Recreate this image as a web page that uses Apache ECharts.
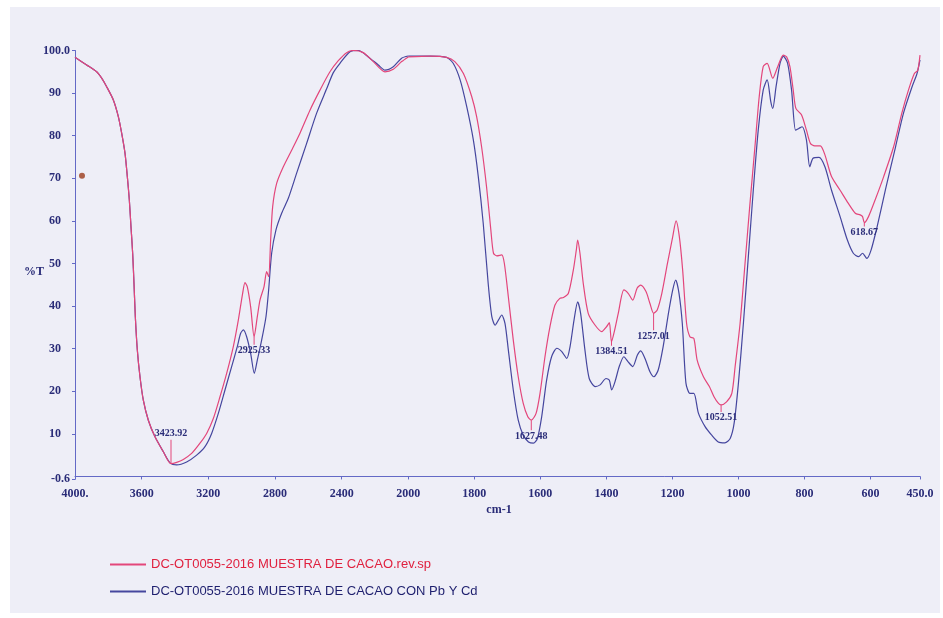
<!DOCTYPE html>
<html>
<head>
<meta charset="utf-8">
<script src="https://cdn.jsdelivr.net/npm/echarts@6/dist/echarts.min.js"></script>
<style>
  html, body { margin: 0; padding: 0; background: #ffffff; }
  #chart { width: 943px; height: 618px; }
</style>
</head>
<body>
<div id="chart"></div>
<script>
// IR spectra, wavenumber (cm-1) vs transmittance (%T)
const RED_NAME = 'DC-OT0055-2016 MUESTRA DE CACAO.rev.sp';
const BLUE_NAME = 'DC-OT0055-2016 MUESTRA DE CACAO CON Pb Y Cd';

// [wavenumber, %T]
const redSpectrum = [
  [4000, 98.4], [3930, 96.6], [3870, 95.0], [3840, 93.5], [3810, 91.5], [3770, 88.4],
  [3740, 84.5], [3720, 80.6], [3700, 75.9], [3686, 70.4], [3674, 64.9], [3664, 58.6],
  [3654, 52.4], [3646, 45.3], [3638, 37.5], [3626, 29.7], [3610, 23.4], [3590, 17.9],
  [3560, 13.2], [3520, 9.3], [3470, 5.8], [3390, 3.3], [3350, 4.0], [3300, 5.4],
  [3250, 7.8], [3210, 10.1], [3170, 13.6], [3130, 18.7], [3090, 24.2], [3050, 30.5],
  [3020, 36.7], [2994, 43.0], [2980, 45.5], [2966, 44.5], [2946, 39.8], [2906, 37.5],
  [2890, 41.4], [2866, 44.5], [2850, 48.1], [2838, 46.9], [2826, 55.5], [2814, 63.3],
  [2790, 68.8], [2750, 72.7], [2700, 76.6], [2650, 80.6], [2590, 86.0], [2530, 90.7],
  [2470, 95.0], [2420, 97.6], [2370, 99.5], [2330, 100.0], [2270, 99.5], [2210, 97.4],
  [2140, 95.0], [2090, 95.6], [2040, 97.4], [2000, 98.5], [1934, 98.7], [1884, 98.4],
  [1859, 97.4], [1833, 94.6], [1808, 89.2], [1793, 84.5], [1778, 77.4], [1763, 68.0],
  [1750, 57.9], [1742, 52.4], [1732, 51.8], [1717, 52.0], [1709, 50.0], [1697, 42.2],
  [1682, 32.0], [1667, 23.4], [1652, 17.2], [1638, 14.0], [1613, 14.8], [1601, 19.5],
  [1586, 28.1], [1571, 35.1], [1556, 40.2], [1541, 41.8], [1530, 42.0], [1515, 43.0],
  [1500, 48.5], [1491, 53.2], [1487, 55.5], [1480, 52.4], [1470, 45.3], [1455, 38.3],
  [1434, 35.5], [1414, 34.0], [1399, 35.2], [1391, 36.1], [1376, 34.0], [1364, 38.3],
  [1347, 43.8], [1334, 43.0], [1320, 41.4], [1307, 44.2], [1296, 44.9], [1280, 43.4],
  [1268, 40.6], [1246, 39.1], [1232, 43.0], [1215, 50.0], [1199, 56.3], [1189, 60.0],
  [1179, 56.3], [1169, 48.5], [1157, 35.9], [1147, 32.8], [1135, 32.4], [1125, 27.3],
  [1106, 23.4], [1088, 21.1], [1074, 18.7], [1061, 17.2], [1036, 17.5], [1020, 19.5],
  [1010, 25.8], [995, 35.9], [980, 50.0], [965, 64.1], [950, 77.4], [937, 89.2],
  [925, 96.2], [913, 97.0], [896, 93.5], [881, 96.2], [864, 98.9], [854, 98.5],
  [844, 96.2], [834, 90.7], [826, 86.4], [809, 84.9], [794, 81.3], [782, 78.2],
  [769, 77.6], [752, 77.6], [738, 75.5], [718, 70.4], [692, 67.2], [667, 64.1],
  [646, 61.8], [631, 61.4], [624, 61.0], [606, 61.0], [586, 64.9], [560, 70.4],
  [530, 77.4], [505, 85.3], [485, 90.7], [467, 94.6], [457, 95.3], [450, 98.9]
];

const blueSpectrum = [
  [4000, 98.4], [3930, 96.6], [3870, 95.0], [3840, 93.5], [3810, 91.5], [3770, 88.4],
  [3740, 84.5], [3720, 80.6], [3700, 75.9], [3686, 70.4], [3674, 64.9], [3664, 58.6],
  [3654, 52.4], [3646, 45.3], [3638, 37.5], [3626, 29.7], [3610, 23.4], [3590, 17.9],
  [3560, 13.2], [3520, 9.3], [3470, 5.8], [3430, 3.2], [3390, 2.7], [3330, 3.4],
  [3270, 5.0], [3220, 7.0], [3180, 10.1], [3140, 14.8], [3100, 20.3], [3060, 25.8],
  [3026, 30.5], [3006, 33.6], [2990, 34.4], [2970, 32.8], [2946, 28.9], [2924, 24.2],
  [2906, 27.3], [2880, 32.0], [2854, 37.5], [2838, 43.8], [2820, 52.4], [2794, 57.9],
  [2760, 61.8], [2720, 65.3], [2670, 71.2], [2610, 78.2], [2550, 85.3], [2490, 91.0],
  [2450, 94.8], [2410, 97.0], [2350, 99.7], [2300, 100.0], [2240, 98.5], [2180, 96.6],
  [2140, 95.4], [2090, 96.2], [2040, 98.2], [2000, 98.7], [1934, 98.7], [1884, 98.4],
  [1864, 97.0], [1843, 93.1], [1823, 86.8], [1803, 79.0], [1788, 70.4], [1773, 59.4],
  [1758, 45.3], [1747, 37.5], [1737, 35.5], [1727, 36.7], [1717, 37.9], [1707, 35.9],
  [1697, 29.7], [1682, 20.3], [1667, 13.2], [1652, 9.7], [1636, 8.1], [1621, 7.8],
  [1609, 8.9], [1596, 14.0], [1581, 22.6], [1566, 28.1], [1550, 30.1], [1535, 29.3],
  [1520, 27.7], [1510, 30.5], [1498, 36.7], [1487, 41.0], [1478, 38.3], [1465, 29.7],
  [1452, 23.0], [1434, 21.1], [1419, 21.5], [1401, 23.0], [1391, 22.6], [1384, 20.3],
  [1374, 22.2], [1361, 25.8], [1347, 28.1], [1334, 26.9], [1320, 25.8], [1306, 28.5],
  [1296, 29.5], [1283, 27.7], [1268, 24.6], [1256, 23.4], [1243, 25.0], [1228, 30.5],
  [1212, 38.3], [1199, 43.8], [1190, 46.1], [1180, 43.0], [1170, 35.9], [1159, 21.9],
  [1147, 19.5], [1135, 19.5], [1121, 14.8], [1101, 11.7], [1081, 9.7], [1061, 8.1],
  [1041, 7.9], [1025, 8.9], [1013, 12.5], [1000, 21.9], [985, 35.9], [970, 51.6],
  [955, 67.2], [940, 81.3], [925, 90.7], [913, 93.1], [902, 88.0], [896, 86.4],
  [886, 91.5], [874, 97.0], [864, 98.7], [851, 97.0], [839, 90.7], [827, 81.3],
  [817, 81.7], [807, 82.1], [794, 79.0], [784, 72.7], [774, 74.7], [756, 74.9],
  [738, 72.7], [718, 67.2], [692, 61.0], [670, 55.5], [652, 52.4], [636, 51.6],
  [624, 52.4], [611, 51.2], [598, 53.2], [580, 58.6], [555, 67.2], [524, 77.4],
  [500, 85.3], [474, 91.5], [459, 94.6], [450, 97.8]
];

// Labelled band minima of the reference sample [wavenumber, %T]
const peaks = [
  [3423.92, 3.0], [2925.33, 32.8], [1627.48, 13.2], [1384.51, 31.6],
  [1257.01, 38.3], [1052.51, 16.8], [618.67, 59.6]
];
// Stem length (px) under each label; negative draws the stem upward
const peakStem = [-24, 8, 10, 4, 17, 7, 4];

// Stray ink spot on the sheet
const inkSpot = [[3958, 70.6]];

const yTicks = [-0.6, 10, 20, 30, 40, 50, 60, 70, 80, 90, 100];
const xTicksLow = [1800, 1600, 1400, 1200, 1000, 800, 600, 450];
const SPLIT = 2000; // scale expands below this wavenumber

const RED = '#e3467b';
const BLUE = '#45469e';
const AXIS = '#6369c6';
const INK = '#2a2c78';
const SERIF = '"Liberation Serif", "DejaVu Serif", serif';

const redAll = redSpectrum.concat(peaks).sort((a, b) => b[0] - a[0]);
const high = pts => pts.filter(p => p[0] >= SPLIT);
const low = pts => pts.filter(p => p[0] <= SPLIT);

function peakMarks(filterFn) {
  const data = [];
  peaks.forEach((p, i) => {
    if (!filterFn(p)) return;
    const len = peakStem[i];
    data.push({
      name: p[0].toFixed(2),
      coord: [p[0], p[1]],
      symbolSize: [1, Math.abs(len)],
      symbolOffset: [0, len / 2],
      label: { position: len < 0 ? 'top' : 'bottom', distance: 1 }
    });
  });
  return {
    symbol: 'rect',
    silent: true,
    animation: false,
    itemStyle: { color: RED },
    label: {
      show: true, formatter: '{b}', color: INK,
      fontFamily: SERIF, fontSize: 10, fontWeight: 'bold'
    },
    data
  };
}

const tickText = { color: INK, fontFamily: SERIF, fontSize: 12, fontWeight: 'bold' };

const lineBase = {
  type: 'line', showSymbol: false, smooth: 0.25, clip: true,
  emphasis: { disabled: true }
};

const option = {
  animation: false,
  backgroundColor: '#ffffff',
  graphic: {
    elements: [
      { type: 'rect', z: -10, silent: true,
        shape: { x: 10, y: 7, width: 930, height: 606 },
        style: { fill: '#eeeef7' } },
      { type: 'text', x: 34, y: 272, silent: true,
        style: { text: '%T', fill: INK, font: 'bold 12px ' + SERIF,
                 textAlign: 'center', textVerticalAlign: 'middle',
                 align: 'center', verticalAlign: 'middle' } },
      { type: 'text', x: 499, y: 510, silent: true,
        style: { text: 'cm-1', fill: INK, font: 'bold 12px ' + SERIF,
                 textAlign: 'center', textVerticalAlign: 'middle',
                 align: 'center', verticalAlign: 'middle' } }
    ]
  },
  legend: {
    orient: 'vertical', left: 105, top: 553,
    itemWidth: 36, itemHeight: 2, itemGap: 14, icon: 'rect',
    selectedMode: false,
    textStyle: { fontFamily: '"Liberation Sans", Arial, sans-serif', fontSize: 13 },
    data: [
      { name: RED_NAME, textStyle: { color: '#e0213f' } },
      { name: BLUE_NAME, textStyle: { color: '#1e1f6e' } }
    ]
  },
  grid: [
    { left: 75, top: 50.5, width: 333.3, height: 428.5 },
    { left: 408.3, top: 50.5, width: 511.7, height: 428.5 }
  ],
  xAxis: [
    {
      gridIndex: 0, type: 'value', min: SPLIT, max: 4000, interval: 400, inverse: true,
      axisLine: { lineStyle: { color: AXIS, width: 1 } },
      axisTick: { length: 3, lineStyle: { color: AXIS } },
      axisLabel: Object.assign({ margin: 9, formatter: v => v === 4000 ? '4000.' : String(v) }, tickText),
      splitLine: { show: false }
    },
    {
      gridIndex: 1, type: 'value', min: 450, max: SPLIT, inverse: true,
      axisLine: { lineStyle: { color: AXIS, width: 1 } },
      axisTick: { length: 3, customValues: xTicksLow, lineStyle: { color: AXIS } },
      axisLabel: Object.assign({ margin: 9, customValues: xTicksLow,
        formatter: v => v === 450 ? '450.0' : String(v) }, tickText),
      splitLine: { show: false }
    }
  ],
  yAxis: [
    {
      gridIndex: 0, type: 'value', min: -0.6, max: 100,
      axisLine: { show: true, lineStyle: { color: AXIS, width: 1 } },
      axisTick: { show: true, length: 3, customValues: yTicks, lineStyle: { color: AXIS } },
      axisLabel: Object.assign({
        margin: 5, customValues: yTicks,
        formatter: v => v === 100 ? '100.0' : (v === -0.6 ? '-0.6' : '{i|' + v + '}'),
        rich: { i: Object.assign({ padding: [0, 9, 0, 0] }, tickText) }
      }, tickText),
      splitLine: { show: false }
    },
    { gridIndex: 1, type: 'value', min: -0.6, max: 100, show: false }
  ],
  series: [
    Object.assign({}, lineBase, { name: BLUE_NAME, xAxisIndex: 0, yAxisIndex: 0,
      data: high(blueSpectrum), color: BLUE, lineStyle: { color: BLUE, width: 1.2 } }),
    Object.assign({}, lineBase, { name: BLUE_NAME, xAxisIndex: 1, yAxisIndex: 1,
      data: low(blueSpectrum), color: BLUE, lineStyle: { color: BLUE, width: 1.2 } }),
    Object.assign({}, lineBase, { name: RED_NAME, xAxisIndex: 0, yAxisIndex: 0,
      data: high(redAll), color: RED, lineStyle: { color: RED, width: 1.2 },
      markPoint: peakMarks(p => p[0] > SPLIT) }),
    Object.assign({}, lineBase, { name: RED_NAME, xAxisIndex: 1, yAxisIndex: 1,
      data: low(redAll), color: RED, lineStyle: { color: RED, width: 1.2 },
      markPoint: peakMarks(p => p[0] <= SPLIT) }),
    { type: 'scatter', xAxisIndex: 0, yAxisIndex: 0, data: inkSpot,
      symbolSize: 6, itemStyle: { color: '#9b3b1c' }, silent: true }
  ]
};

const chart = echarts.init(document.getElementById('chart'), null, { renderer: 'canvas' });
chart.setOption(option);
</script>
</body>
</html>
